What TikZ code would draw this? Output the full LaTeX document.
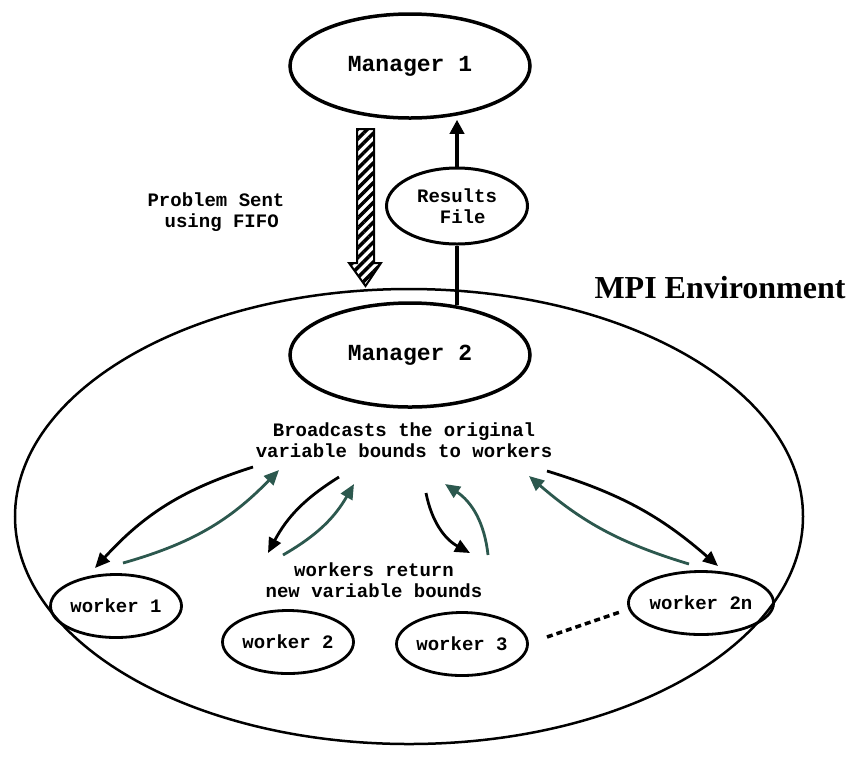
\documentclass[tikz,border=0pt]{standalone}
\usepackage{fontspec}
\setmainfont{Liberation Serif}
\setmonofont{Liberation Mono}
\usetikzlibrary{shapes.geometric,arrows.meta,patterns.meta}
\definecolor{retgreen}{RGB}{44,88,78}
\begin{document}
\begin{tikzpicture}[x=1pt,y=-1pt,
  ell/.style={ellipse, draw, inner sep=0pt},
  mgr/.style={ell, line width=3.5pt, minimum width=240pt, minimum height=104pt,
    font=\fontsize{23}{25}\selectfont\ttfamily\bfseries},
  wrk/.style={ell, line width=2.8pt, minimum width=131pt, minimum height=63pt,
    font=\fontsize{19}{21}\selectfont\ttfamily\bfseries},
  lbl/.style={font=\fontsize{19}{21}\selectfont\ttfamily\bfseries, align=center, inner sep=0pt},
  bcast/.style={line width=2.8pt, -{Triangle[length=15pt,width=13pt]}},
  ret/.style={bcast, draw=retgreen},
]
\useasboundingbox (0,0) rectangle (858,764);

% environment
\node[ell, line width=2.5pt, minimum width=788pt, minimum height=455pt] (env) at (409,516.5) {};
\node[font=\fontsize{32}{34}\selectfont\bfseries, anchor=base, inner sep=0pt] (mpi) at (720,298) {MPI Environment};

% managers
\node[mgr] (m1) at (410,66) {Manager 1};
\node[mgr] (m2) at (410,355) {Manager 2};

% results file
\node[ell, line width=3pt, minimum width=141pt, minimum height=76pt,
  font=\fontsize{19}{21}\selectfont\ttfamily\bfseries, align=center] (res) at (457,206) {Results\\\ File};
\draw[line width=3.5pt, -{Triangle[length=14pt,width=14pt]}] (res.north) -- (res.north |- m1.south);
\draw[line width=3.5pt] (res.south) -- (res.south |- m2.48);

% problem sent (hatched arrow)
\node[lbl] (ps) at (216,212) {Problem Sent\\\ using FIFO};
\draw[line width=2pt, pattern={Lines[angle=45,distance=7pt,line width=3.5pt]}]
  (357,129) -- (374,129) -- (374,263) -- (381,263) -- (365.5,286) -- (349,263) -- (357,263) -- cycle;

% texts
\node[lbl] (bc) at (404,440) {Broadcasts the original\\variable bounds to workers};
\node[lbl] (wr) at (374,580) {workers return\\new variable bounds};

% workers
\node[wrk] (w1) at (116,606) {worker 1};
\node[wrk] (w2) at (288,642) {worker 2};
\node[wrk] (w3) at (462,644) {worker 3};
\node[wrk] (w2n) at (701,603) {worker 2n};

% arrow end points
\coordinate (b1s) at (253,467); \coordinate (b1e) at (95,568);
\coordinate (r1s) at (123,563); \coordinate (r1e) at (279,470);
\coordinate (b2s) at (339,477); \coordinate (b2e) at (268,553);
\coordinate (r2s) at (283,555); \coordinate (r2e) at (354,484);
\coordinate (b3s) at (426,493); \coordinate (b3e) at (470,553);
\coordinate (r3s) at (488,555); \coordinate (r3e) at (445,484);
\coordinate (b4s) at (547,471); \coordinate (b4e) at (718,566);
\coordinate (r4s) at (689,564); \coordinate (r4e) at (529,476);

\draw[bcast] (b1s) to[bend right=15] (b1e);
\draw[ret] (r1s) to[bend right=15] (r1e);
\draw[bcast] (b2s) to[bend right=15] (b2e);
\draw[ret] (r2s) to[bend right=15] (r2e);
\draw[bcast] (b3s) to[bend right=25] (b3e);
\draw[ret] (r3s) to[bend right=25] (r3e);
\draw[bcast] (b4s) to[bend left=12] (b4e);
\draw[ret] (r4s) to[bend left=12] (r4e);

% dotted link
\coordinate (d1) at (547,637); \coordinate (d2) at (620,612);
\draw[line width=3.5pt, dash pattern=on 6pt off 4pt] (d1) -- (d2);
\end{tikzpicture}
\end{document}
